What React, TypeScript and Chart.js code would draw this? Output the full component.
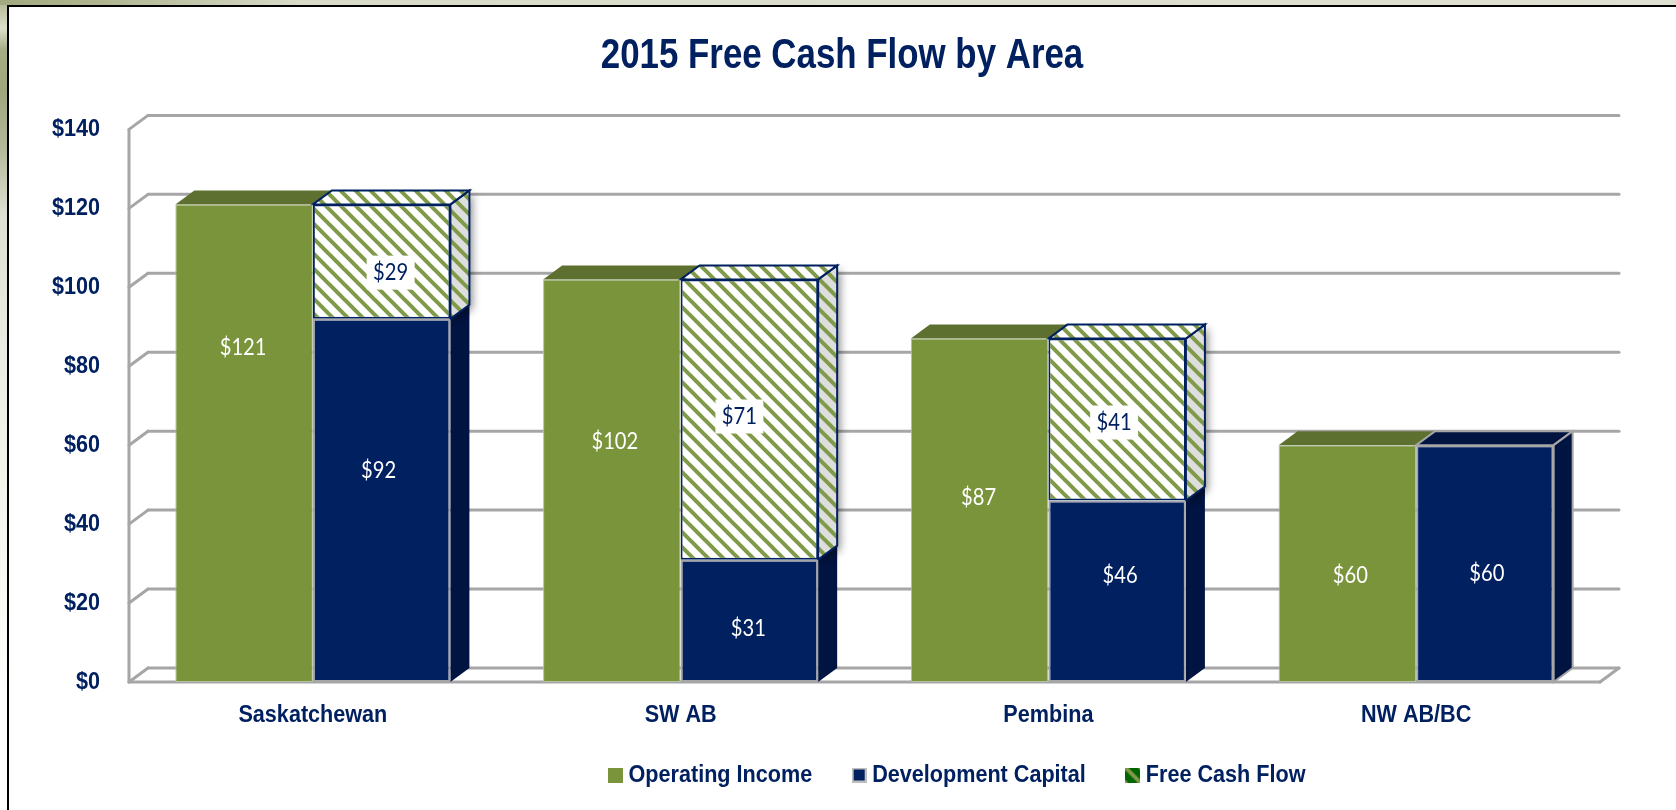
import React, { useEffect, useRef } from "react";
import { Chart, registerables } from "chart.js";

Chart.register(...registerables);

const categories = ["Saskatchewan", "SW AB", "Pembina", "NW AB/BC"];
const operatingIncome = [121, 102, 87, 60];
const developmentCapital = [92, 31, 46, 60];
const freeCashFlow = [29, 71, 41, 0];
const yMax = 140;
const yStep = 20;
const chartTitle = "2015 Free Cash Flow by Area";

// Style constants
const GREEN = "#7A943B";
const GREEN_TOP = "#5E702F";
const NAVY = "#002060";
const NAVY_DARK = "#001442";
const GRID = "#A6A6A6";
const SANS = '"Liberation Sans", sans-serif';
const DEPTH_X = 19;
const DEPTH_Y = -14;

// [dx, dy] nudges of value labels from the centre of each bar, per dataset
const labelNudges: number[][][] = [
  [[-1, -96], [3, -39], [-1, -13], [3, 12]],
  [[-3, -30], [-1, 7], [3, -16], [2, 10]],
  [[9, 11], [-10, -3], [-3, 3], [0, 0]],
];

// No narrow face is installed: condense the library's text horizontally
function condenseText(ctx: any) {
  const fill = ctx.fillText.bind(ctx);
  const measure = ctx.measureText.bind(ctx);
  const factor = () => {
    const f: string = ctx.font;
    if (!f.includes("Liberation")) return 1;
    return parseFloat(f.match(/([\d.]+)px/)?.[1] || "0") >= 30 ? 0.83 : 0.9;
  };
  ctx.fillText = (t: string, x: number, y: number, m?: number) => {
    const k = factor();
    if (k === 1) return m === undefined ? fill(t, x, y) : fill(t, x, y, m);
    ctx.save();
    ctx.translate(x, y);
    ctx.scale(k, 1);
    fill(t, 0, 0);
    ctx.restore();
  };
  ctx.measureText = (t: string) => {
    const r = measure(t);
    return { width: r.width * factor() };
  };
}

function hatchCanvas(bg: string, fg: string, size: number, lw: number) {
  const c = document.createElement("canvas");
  c.width = size;
  c.height = size;
  const g = c.getContext("2d")!;
  g.fillStyle = bg;
  g.fillRect(0, 0, size, size);
  g.strokeStyle = fg;
  g.lineWidth = lw;
  for (let o = -size; o <= size; o += size) {
    g.beginPath();
    g.moveTo(o - 2, -2);
    g.lineTo(o + size + 2, size + 2);
    g.stroke();
  }
  return c;
}

function swatch(fill: string, border?: string) {
  const c = document.createElement("canvas");
  c.width = 15;
  c.height = 15;
  const g = c.getContext("2d")!;
  if (border) {
    g.fillStyle = border;
    g.fillRect(0, 0, 15, 15);
    g.fillStyle = fill;
    g.fillRect(2, 2, 11, 11);
  } else {
    g.fillStyle = fill;
    g.fillRect(0, 0, 15, 15);
  }
  return c;
}

function face(ctx: CanvasRenderingContext2D, pts: number[][], fill: any, stroke?: string, lw = 2) {
  ctx.beginPath();
  pts.forEach((p, i) => (i ? ctx.lineTo(p[0], p[1]) : ctx.moveTo(p[0], p[1])));
  ctx.closePath();
  ctx.fillStyle = fill;
  ctx.fill();
  if (stroke) {
    ctx.strokeStyle = stroke;
    ctx.lineWidth = lw;
    ctx.stroke();
  }
}

const wallsPlugin = {
  id: "walls",
  beforeDatasetsDraw(chart: any) {
    const { ctx, chartArea: a, scales } = chart;
    const y = scales.y;
    ctx.save();
    ctx.strokeStyle = GRID;
    ctx.lineWidth = 3;
    ctx.lineCap = "round";
    const seg = (x1: number, y1: number, x2: number, y2: number) => {
      ctx.beginPath();
      ctx.moveTo(x1, y1);
      ctx.lineTo(x2, y2);
      ctx.stroke();
    };
    for (let v = 0; v <= yMax; v += yStep) {
      const py = y.getPixelForValue(v);
      seg(a.left, py, a.left + DEPTH_X, py + DEPTH_Y);
      seg(a.left + DEPTH_X, py + DEPTH_Y, a.right + DEPTH_X, py + DEPTH_Y);
    }
    seg(a.left, y.getPixelForValue(0), a.left, y.getPixelForValue(yMax));
    seg(a.left, y.getPixelForValue(0), a.right, y.getPixelForValue(0));
    seg(a.right, y.getPixelForValue(0), a.right + DEPTH_X, y.getPixelForValue(0) + DEPTH_Y);

    // 3D faces of the bars, from the bar elements
    const hatch = ctx.createPattern(hatchCanvas("#FFFFFF", "#7F9A48", 15, 4), "repeat");
    const hatchSide = ctx.createPattern(hatchCanvas("#DEDEDE", "#7F9A48", 15, 4), "repeat");
    const styles = [
      { top: GREEN_TOP, side: GREEN_TOP, stroke: undefined },
      { top: NAVY_DARK, side: NAVY_DARK, stroke: GRID },
      { top: hatch, side: hatchSide, stroke: NAVY },
    ];
    for (let j = 0; j < categories.length; j++) {
      [0, 1, 2].forEach((d) => {
        const el = chart.getDatasetMeta(d).data[j];
        const ds = chart.data.datasets[d].data[j];
        if (!ds) return;
        const l = el.x - el.width / 2;
        const r = el.x + el.width / 2;
        const t = el.y;
        const b = el.base;
        const st: any = styles[d];
        ctx.save();
        if (d === 2) {
          ctx.shadowColor = "rgba(0,0,0,0.45)";
          ctx.shadowBlur = 9;
          ctx.shadowOffsetX = 3;
          ctx.shadowOffsetY = 3;
          face(ctx, [[r, t], [r + DEPTH_X, t + DEPTH_Y], [r + DEPTH_X, b + DEPTH_Y], [r, b]], "#D9D9D9");
          ctx.shadowColor = "transparent";
        }
        if (d > 0) {
          face(ctx, [[r, t], [r + DEPTH_X, t + DEPTH_Y], [r + DEPTH_X, b + DEPTH_Y], [r, b]], st.side, d === 2 ? st.stroke : undefined);
        }
        const showTop = d !== 1 || !chart.data.datasets[2].data[j];
        if (showTop) {
          face(ctx, [[l, t], [l + DEPTH_X, t + DEPTH_Y], [r + DEPTH_X, t + DEPTH_Y], [r, t]], st.top, st.stroke);
        }
        if (d === 1 && showTop) {
          face(ctx, [[r, t], [r + DEPTH_X, t + DEPTH_Y], [r + DEPTH_X, b + DEPTH_Y], [r, b]], st.side, GRID);
        }
        ctx.restore();
      });
    }
    ctx.restore();
  },
  afterDatasetsDraw(chart: any) {
    const { ctx } = chart;
    ctx.save();
    ctx.textAlign = "center";
    ctx.textBaseline = "middle";
    ctx.font = "24px Lato, sans-serif";
    chart.data.datasets.forEach((ds: any, d: number) => {
      const meta = chart.getDatasetMeta(d);
      ds.data.forEach((v: number, j: number) => {
        if (!v) return;
        const el = meta.data[j];
        const [nx, ny] = labelNudges[d][j];
        const cx = el.x + nx;
        const cy = (el.y + el.base) / 2 + ny;
        const text = "$" + v;
        if (d === 2) {
          ctx.fillStyle = "#FFFFFF";
          ctx.fillRect(cx - 24, cy - 17, 48, 34);
          ctx.fillStyle = NAVY;
        } else {
          ctx.fillStyle = "#FFFFFF";
        }
        ctx.save();
        ctx.translate(cx, cy);
        ctx.scale(0.84, 1);
        ctx.fillText(text, 0, 0);
        ctx.restore();
      });
    });
    ctx.restore();
  },
  afterLayout(chart: any) {
    // the title and legend sit off-centre in the reference
    chart.titleBlock.left += 24;
    chart.titleBlock.right += 24;
    chart.legend.left += 142;
    chart.legend.right += 142;
    chart.legend.top = 717;
  },
};

export default function App() {
  const ref = useRef<HTMLCanvasElement>(null);
  useEffect(() => {
    const canvas = ref.current!;
    const g = canvas.getContext("2d")!;
    condenseText(g);
    const barHatch = g.createPattern(hatchCanvas("#FFFFFF", "#7F9A48", 15, 4), "repeat")!;
    const legendHatch = hatchCanvas("#006400", "#7F9A48", 15, 4);
    const chart = new Chart(canvas, {
      type: "bar",
      data: {
        labels: categories,
        datasets: [
          {
            label: "Operating Income",
            data: operatingIncome,
            stack: "income",
            backgroundColor: GREEN,
            borderColor: "#B4BEA0",
            borderWidth: 1,
            borderSkipped: false,
            pointStyle: swatch(GREEN),
          },
          {
            label: "Development Capital",
            data: developmentCapital,
            stack: "uses",
            backgroundColor: NAVY,
            borderColor: GRID,
            borderWidth: 2,
            borderSkipped: false,
            pointStyle: swatch(NAVY, "#BFBFBF"),
          },
          {
            label: "Free Cash Flow",
            data: freeCashFlow,
            stack: "uses",
            backgroundColor: barHatch,
            borderColor: NAVY,
            borderWidth: 2,
            borderSkipped: false,
            pointStyle: legendHatch,
          },
        ] as any,
      },
      options: {
        animation: false,
        responsive: false,
        categoryPercentage: 0.748,
        barPercentage: 1,
        layout: { padding: { left: 36, right: 76, top: 0, bottom: 0 } },
        plugins: {
          title: {
            display: true,
            text: chartTitle,
            color: NAVY,
            font: { family: SANS, size: 42, weight: "bold" },
            padding: { top: 31, bottom: 48 },
          },
          legend: {
            position: "bottom",
            labels: {
              usePointStyle: true,
              boxWidth: 2,
              boxHeight: 15,
              padding: 46,
              color: NAVY,
              font: { family: SANS, size: 24, weight: "bold" },
            },
          },
          tooltip: { enabled: false },
        },
        scales: {
          x: {
            stacked: true,
            grid: { display: false },
            border: { display: false },
            ticks: {
              color: NAVY,
              padding: 11,
              font: { family: SANS, size: 24, weight: "bold" },
              maxRotation: 0,
            },
            afterFit: (s: any) => {
              s.height = 48;
            },
          },
          y: {
            stacked: true,
            min: 0,
            max: yMax,
            grid: { display: false },
            border: { display: false },
            ticks: {
              stepSize: yStep,
              color: NAVY,
              padding: 21,
              font: { family: SANS, size: 24, weight: "bold" },
              callback: (v: any) => "$" + v,
            },
            afterFit: (s: any) => {
              s.width = 93;
            },
          },
        },
      } as any,
      plugins: [wallsPlugin],
    });
    return () => chart.destroy();
  }, []);

  return (
    <div style={{ position: "fixed", inset: 0, background: "#FFFFFF", overflow: "hidden" }}>
      <div
        style={{
          position: "absolute",
          left: 0,
          top: 0,
          width: 7,
          bottom: 0,
          background:
            "linear-gradient(to bottom, #B0B48F 0px, #DDDFCC 28px, #A6AC84 50px, #9EA67C 90px, #B4B99A 150px, #DFE0D4 215px, #EEEFE6 400px, #FAFBF5 620px, #FFFFFF 700px)",
        }}
      />
      <div
        style={{
          position: "absolute",
          left: 0,
          top: 0,
          right: 0,
          height: 5,
          background: "linear-gradient(to right, #A3A97F 0px, #B0B58F 100px, #D9DBC8 300px, #E0E0D2 1676px)",
        }}
      />
      <div style={{ position: "absolute", left: 7, top: 5, right: 0, height: 2, background: "#000" }} />
      <div style={{ position: "absolute", left: 7, top: 5, bottom: 0, width: 2, background: "#000" }} />
      <canvas
        ref={ref}
        width={1676}
        height={810}
        style={{ position: "absolute", left: 0, top: 0, width: 1676, height: 810 }}
      />
    </div>
  );
}
